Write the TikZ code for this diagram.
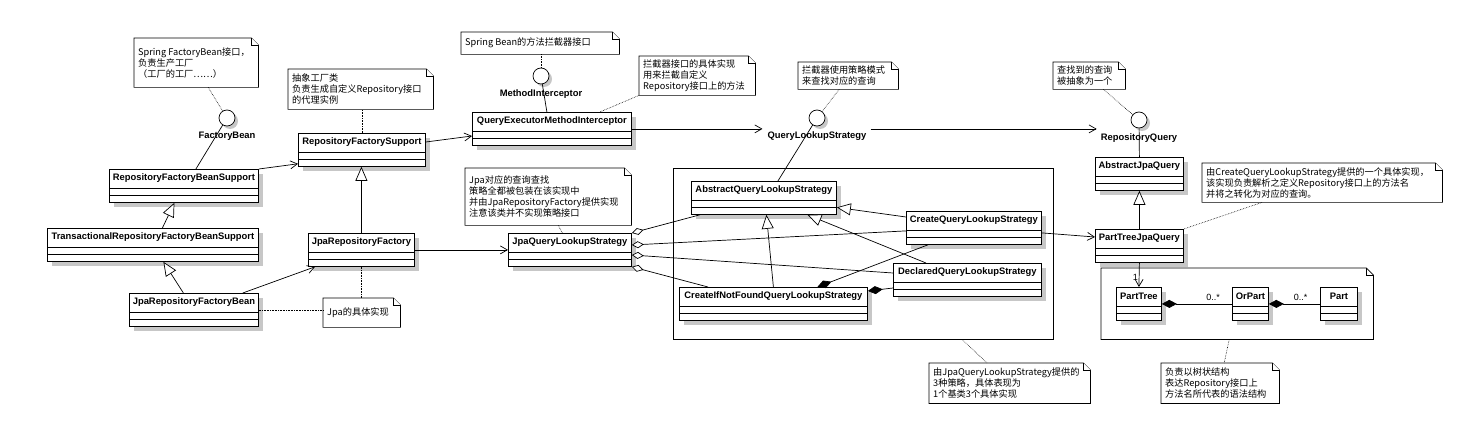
\documentclass[tikz,border=0pt]{standalone}
\usepackage{fontspec}
\setmainfont{Liberation Sans}
\newfontfamily\cjk{Noto Sans CJK SC}
\usetikzlibrary{arrows.meta}

\newcommand{\umlclass}[5]{%
	\fill[classshadow] (#2+5,#3+5) rectangle ++(#4,33);
	\node[classbox, minimum width=#4, anchor=north west] (#1) at (#2,#3) {};
	\node[classname] (#1-n) at ([yshift=-9.5pt]#1.north) {#5};
	\draw[classline] ([yshift=-19pt]#1.north west) -- ([yshift=-19pt]#1.north east);
	\draw[classline] ([yshift=-26pt]#1.north west) -- ([yshift=-26pt]#1.north east);
}
\newcommand{\umlnote}[6]{%
	\node[notebox, minimum width=#4-#2, minimum height=#5-#3, anchor=north west] (#1) at (#2,#3) {};
	\draw[noteline] (#1.north west) -- ([xshift=-7pt]#1.north east) -- ([yshift=-7pt]#1.north east) -- (#1.south east) -- (#1.south west) -- cycle;
	\draw[noteline] ([xshift=-7pt]#1.north east) |- ([yshift=-7pt]#1.north east);
	\node[notetext, anchor=west] (#1-t) at ([xshift=3pt]#1.west) {#6};
}
\newcommand{\umliface}[4]{%
	\fill[classshadow] (#2+3,#3+3) circle [radius=8pt];
	\node[iface] (#1) at (#2,#3) {};
	\node[classname] (#1-l) at (#2,#3+18) {#4};
}

\begin{document}
\begin{tikzpicture}[x=1pt,y=-1pt,
	classbox/.style={draw, fill=white, rectangle, minimum height=33pt, inner sep=0pt, line width=0.8pt},
	classline/.style={line width=0.8pt},
	classname/.style={font=\fontsize{9.4}{11}\selectfont\bfseries, inner sep=1pt},
	classshadow/.style={fill=black!22},
	notebox/.style={inner sep=0pt},
	noteline/.style={draw, fill=white, line width=0.7pt},
	notetext/.style={font=\cjk\fontsize{9.2}{11}\selectfont, align=left, inner sep=1pt},
	iface/.style={circle, draw, fill=white, minimum size=16pt, inner sep=0pt, line width=0.7pt},
	link/.style={line width=0.7pt},
	assoc/.style={link, -{Straight Barb[length=7pt,width=8pt]}},
	inherit/.style={link, -{Triangle[open, fill=white, length=14pt, width=12pt]}},
	aggr/.style={link, {Diamond[open, fill=white, length=12pt, width=7pt]}-},
	compose/.style={link, {Diamond[length=15pt, width=8pt]}-},
	notelink/.style={line width=0.6pt, densely dotted},
	mult/.style={font=\fontsize{9}{11}\selectfont, inner sep=1pt}]
	\useasboundingbox (0,0) rectangle (1474,443);

	\node[draw, line width=0.7pt, minimum width=380, minimum height=171, inner sep=0pt, anchor=north west] (qframe) at (673,168) {};
	\node[notebox, minimum width=272, minimum height=71, anchor=north west] (ptpkg) at (1101,268) {};
	\draw[noteline, fill=none] (ptpkg.north west) -- ([xshift=-7pt]ptpkg.north east) -- ([yshift=-7pt]ptpkg.north east) -- (ptpkg.south east) -- (ptpkg.south west) -- cycle;
	\draw[noteline, fill=none] ([xshift=-7pt]ptpkg.north east) |- ([yshift=-7pt]ptpkg.north east);

	\umlnote{fbnote}{134}{38}{258}{87}{Spring FactoryBean接口，\\负责生产工厂\\（工厂的工厂……）}
	\umlnote{rfsnote}{288}{69}{433}{109}{抽象工厂类\\负责生成自定义Repository接口\\的代理实例}
	\umlnote{minote}{461}{32}{619}{54}{Spring Bean的方法拦截器接口}
	\umlnote{qeminote}{639}{56}{755}{95}{拦截器接口的具体实现\\用来拦截自定义\\Repository接口上的方法}
	\umlnote{qlsnote}{798}{62}{898}{89}{拦截器使用策略模式\\来查找对应的查询}
	\umlnote{rqnote}{1053}{62}{1125}{89}{查找到的查询\\被抽象为一个}
	\umlnote{jqlsnote}{465}{168}{631}{225}{Jpa对应的查询查找\\策略全都被包装在该实现中\\并由JpaRepositoryFactory提供实现\\注意该类并不实现策略接口}
	\umlnote{jpanote}{323}{298}{400}{327}{Jpa的具体实现}
	\umlnote{ptjqnote}{1202}{163}{1442}{202}{由CreateQueryLookupStrategy提供的一个具体实现，\\该实现负责解析之定义Repository接口上的方法名\\并将之转化为对应的查询。}
	\umlnote{stratnote}{929}{363}{1090}{403}{由JpaQueryLookupStrategy提供的\\3种策略，具体表现为\\1个基类3个具体实现}
	\umlnote{treenote}{1161}{363}{1279}{403}{负责以树状结构\\表达Repository接口上\\方法名所代表的语法结构}

	\umliface{fb}{227}{118}{FactoryBean}
	\umliface{mi}{541}{76}{MethodInterceptor}
	\umliface{qls}{817}{118}{QueryLookupStrategy}
	\umliface{rq}{1139}{120}{RepositoryQuery}

	\umlclass{rfbs}{109}{169}{149}{RepositoryFactoryBeanSupport}
	\umlclass{trfbs}{47}{228}{211}{TransactionalRepositoryFactoryBeanSupport}
	\umlclass{jrfb}{129}{293}{129}{JpaRepositoryFactoryBean}
	\umlclass{rfs}{298}{133}{127}{RepositoryFactorySupport}
	\umlclass{jrf}{308}{233}{106}{JpaRepositoryFactory}
	\umlclass{qemi}{472}{112}{159}{QueryExecutorMethodInterceptor}
	\umlclass{jqls}{508}{233}{123}{JpaQueryLookupStrategy}
	\umlclass{aqls}{691}{181}{145}{AbstractQueryLookupStrategy}
	\umlclass{cinf}{679}{287}{188}{CreateIfNotFoundQueryLookupStrategy}
	\umlclass{cqls}{906}{211}{135}{CreateQueryLookupStrategy}
	\umlclass{dqls}{893}{263}{148}{DeclaredQueryLookupStrategy}
	\umlclass{ajq}{1095}{157}{88}{AbstractJpaQuery}
	\umlclass{ptjq}{1095}{229}{88}{PartTreeJpaQuery}
	\umlclass{pt}{1116}{287}{45}{PartTree}
	\umlclass{orp}{1232}{287}{36}{OrPart}
	\umlclass{part}{1320}{287}{37}{Part}

	\draw[notelink] ([xshift=12pt]fbnote.south) -- (fb);
	\draw[link] (fb) -- ([xshift=12pt]rfbs.north);
	\draw[inherit] ([xshift=9.5pt]trfbs.north) -- ([xshift=-9.5pt]rfbs.south);
	\draw[inherit] ([xshift=-10.5pt]jrfb.north) -- ([xshift=10.5pt]trfbs.south);
	\draw[assoc] (rfbs.north east) -- ([yshift=3pt]rfs.south west);
	\draw[notelink] (rfs.north) -- (rfs.north |- rfsnote.south);
	\draw[inherit] (jrf.north) -- (jrf.north |- rfs.south);
	\draw[assoc] ([xshift=-16pt]jrfb.north east) -- ([xshift=7pt]jrf.south west);
	\draw[assoc] (jrf.east) -- (jqls.west);
	\draw[notelink] (jrf.south) -- (jrf.south |- jpanote.north);
	\draw[notelink] (jrfb.east) -- (jrfb.east -| jpanote.west);
	\draw[assoc] ([yshift=-9pt]rfs.north east) -- ([yshift=-24pt]qemi.north west);
	\draw[notelink] (mi) -- (mi |- minote.south);
	\draw[link] (mi) -- ([xshift=-5pt]qemi.north);
	\draw[notelink] (qeminote.south west) -- ([xshift=-32pt]qemi.north east);
	\draw[assoc, shorten >=4pt] (qemi.east) -- (qemi.east -| qls-l.west);
	\draw[notelink] ([xshift=-9pt]qlsnote.south) -- (qls);
	\draw[link] (qls) -- ([xshift=14pt]aqls.north);
	\draw[assoc, shorten <=3pt, shorten >=3pt] (qls-l.east |- qemi.east) -- (rq-l.west |- qemi.east);
	\draw[notelink] ([xshift=-22pt]rqnote.south east) -- (rq);
	\draw[link] (rq) -- (ajq.north);
	\draw[inherit] (ptjq.north) -- (ajq.south);
	\draw[assoc] ([yshift=-5pt]cqls.east) -- ([yshift=-8pt]ptjq.north west);
	\draw[notelink] ([xshift=60pt]ptjqnote.south west) -- (ptjq.north east);
	\draw[assoc] (ptjq.south) -- (pt.north) node[mult, pos=0.6, left] {1};
	\draw[compose] (pt.east) -- (orp.west) node[mult, pos=0.73, above=2pt] {0..*};
	\draw[compose] (orp.east) -- (part.west) node[mult, pos=0.62, above=2pt] {0..*};
	\draw[notelink] ([xshift=-8pt]ptpkg.south) -- ([xshift=4pt]treenote.north);
	\draw[notelink] ([xshift=10pt]jqlsnote.south) -- ([xshift=-7.5pt]jqls.north);

	\draw[aggr] (jqls.north east) -- ([xshift=9pt]aqls.south west);
	\draw[aggr] ([yshift=-12pt]jqls.north east) -- ([yshift=-3pt]cqls.west);
	\draw[aggr] ([yshift=-22pt]jqls.north east) -- ([yshift=-10pt]dqls.north west);
	\draw[aggr] (jqls.south east) -- ([xshift=29pt]cinf.north west);
	\draw[inherit] ([yshift=-6pt]cqls.north west) -- ([yshift=-9.5pt]aqls.east);
	\draw[inherit] ([xshift=33pt]dqls.north west) -- ([xshift=43.5pt]aqls.south);
	\draw[inherit] (cinf.north) -- ([xshift=2.5pt]aqls.south);
	\draw[compose] ([xshift=44pt]cinf.north) -- ([xshift=22pt]cqls.south west);
	\draw[compose] ([yshift=-4pt]cinf.north east) -- ([yshift=-25pt]dqls.north west);
	\draw[notelink] ([xshift=99pt]qframe.south) -- ([xshift=58pt]stratnote.north west);
\end{tikzpicture}
\end{document}
